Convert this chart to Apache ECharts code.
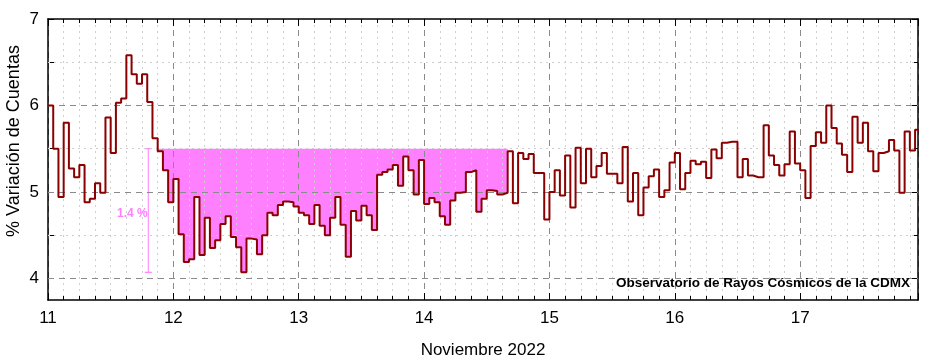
<!DOCTYPE html>
<html><head><meta charset="utf-8">
<script src="https://cdn.jsdelivr.net/npm/echarts@6/dist/echarts.min.js"></script>
<style>html,body{margin:0;padding:0;background:#fff}#c{width:931px;height:359px}</style>
</head><body><div id="c"></div>
<script>
// ---- data (hourly % variation, November 2022) ----
const START_DAY = 11;
const HOURS_PER_DAY = 24;
const X_MIN = 11, X_MAX = 17.94;
const Y_MIN = 3.75, Y_MAX = 7;
const xTickValues = [11, 12, 13, 14, 15, 16, 17];
const yLabelValues = [4, 5, 6, 7];
const yTickValues = [4, 4.5, 5, 5.5, 6, 6.5, 7];
const yGridMajor = [4, 5, 6];
const yGridMinor = [4.5, 5.5, 6.5];

const day11 = [6.00,5.50,4.94,5.80,5.27,5.17,5.31,4.88,4.92,5.10,4.99,5.86,5.45,6.03,6.08,6.58,6.36,6.25,6.36,6.04,5.62,5.47,5.25,4.88];
const day12 = [5.15,4.51,4.19,4.22,4.94,4.27,4.70,4.35,4.44,4.63,4.72,4.48,4.36,4.07,4.46,4.45,4.28,4.50,4.76,4.73,4.85,4.89,4.88,4.83];
const day13 = [4.76,4.73,4.63,4.85,4.61,4.50,4.70,4.94,4.62,4.25,4.78,4.67,4.84,4.73,4.56,5.20,5.23,5.26,5.31,5.07,5.41,5.25,4.97,5.37];
const day14 = [4.86,4.93,4.88,4.72,4.62,4.90,4.99,5.00,5.23,5.25,4.77,4.92,5.02,5.01,4.97,4.99,5.47,4.87,5.45,5.38,5.44,5.22,5.22,4.68];
const day15 = [5.00,5.25,4.96,5.42,4.82,5.51,5.10,5.50,5.17,5.30,5.45,5.21,5.21,5.10,5.52,4.89,5.22,4.73,5.05,5.18,5.26,4.94,5.02,5.34];
const day16 = [5.45,5.03,5.22,5.36,5.32,5.35,5.16,5.49,5.39,5.57,5.58,5.58,5.17,5.38,5.19,5.17,5.17,5.77,5.42,5.31,5.19,5.32,5.70,5.33];
const day17 = [5.25,4.93,5.53,5.69,5.57,6.00,5.74,5.56,5.43,5.23,5.87,5.57,5.80,5.47,5.24,5.45,5.47,5.60,5.48,4.99,5.70,5.48,5.72,5.48];

// decrease highlight
const refLevel = 5.5;
const fillStart = 11 + 21 / 24;
const fillEnd = 14 + 16 / 24;
const dropX = 11.8, dropTop = 5.5, dropBottom = 4.07;
const dropText = '1.4 %';

const titleY = '% Variación de Cuentas';
const titleX = 'Noviembre 2022';
const credit = 'Observatorio de Rayos Cósmicos de la CDMX';

// ---- build series data ----
const values = [].concat(day11, day12, day13, day14, day15, day16, day17);
const stepData = values.map((v, i) => [START_DAY + i / HOURS_PER_DAY, v]);
stepData.push([START_DAY + values.length / HOURS_PER_DAY, values[values.length - 1]]);

const eps = 1e-9;
const fillData = stepData.filter(p => p[0] >= fillStart - eps && p[0] < fillEnd - eps).map(p => [p[0], p[1]]);
fillData.push([fillEnd, fillData[fillData.length - 1][1]]);

const gridMarks = [];
yGridMajor.forEach(v => gridMarks.push({ yAxis: v, lineStyle: { type: [6, 5], color: '#8a8a8a', width: 1 } }));
yGridMinor.forEach(v => gridMarks.push({ yAxis: v, lineStyle: { type: [2, 4], color: '#cfcfcf', width: 1 } }));

const FONT = 'Liberation Sans, Arial, sans-serif';
const chart = echarts.init(document.getElementById('c'), null, { renderer: 'canvas' });
chart.setOption({
  animation: false,
  backgroundColor: '#fff',
  grid: { left: 48, right: 13, top: 19, bottom: 59, containLabel: false, outerBoundsMode: 'none' },
  xAxis: [{
    type: 'value', min: X_MIN, max: X_MAX, interval: 1, z: 3,
    axisLine: { show: true, onZero: false, lineStyle: { color: '#000', width: 1.5 } },
    axisTick: { show: true, inside: true, length: 7, lineStyle: { color: '#000' } },
    minorTick: { show: true, splitNumber: 8, length: 4, lineStyle: { color: '#000' } },
    axisLabel: { show: true, color: '#000', fontSize: 17, fontFamily: FONT, margin: 10,
      formatter: v => xTickValues.indexOf(Math.round(v)) >= 0 && Math.abs(v - Math.round(v)) < 1e-6 ? String(Math.round(v)) : '' },
    splitLine: { show: true, lineStyle: { type: [6, 5], color: '#8a8a8a', width: 1 } },
    minorSplitLine: { show: true, lineStyle: { type: [2, 4], color: '#cfcfcf', width: 1 } },
    name: titleX, nameLocation: 'middle', nameGap: 42,
    nameTextStyle: { fontSize: 17, fontFamily: FONT, color: '#000' }
  }, {
    type: 'value', position: 'top', min: X_MIN, max: X_MAX, interval: 1, z: 3,
    axisLine: { show: true, onZero: false, lineStyle: { color: '#000', width: 1.5 } },
    axisTick: { show: true, inside: true, length: 7, lineStyle: { color: '#000' } },
    minorTick: { show: true, splitNumber: 8, length: 4, lineStyle: { color: '#000' } },
    axisLabel: { show: false }, splitLine: { show: false }
  }],
  yAxis: [{
    type: 'value', min: Y_MIN, max: Y_MAX, z: 3,
    axisLine: { show: true, onZero: false, lineStyle: { color: '#000', width: 1.5 } },
    axisTick: { show: true, inside: true, length: 6, customValues: yTickValues, lineStyle: { color: '#000' } },
    axisLabel: { show: true, customValues: yLabelValues, color: '#000', fontSize: 17, fontFamily: FONT, margin: 9 },
    splitLine: { show: false }
  }, {
    type: 'value', position: 'right', min: Y_MIN, max: Y_MAX, z: 3,
    axisLine: { show: true, onZero: false, lineStyle: { color: '#000', width: 1.5 } },
    axisTick: { show: true, inside: true, length: 6, customValues: yTickValues, lineStyle: { color: '#000' } },
    axisLabel: { show: false }, splitLine: { show: false }
  }],
  series: [
    {
      name: 'fill', type: 'line', step: 'end', data: fillData, z: 1,
      symbol: 'none', lineStyle: { width: 0, opacity: 0 },
      areaStyle: { color: '#ff80ff', opacity: 1, origin: refLevel },
      silent: true
    },
    {
      name: 'grid', type: 'line', data: [], z: 3, silent: true,
      markLine: { silent: true, symbol: 'none', label: { show: false }, animation: false, data: gridMarks }
    },
    {
      name: 'drop', type: 'line', data: [[dropX, dropTop], [dropX, dropBottom]], z: 4,
      symbol: 'rect', symbolSize: [7, 1.2], showSymbol: true,
      lineStyle: { color: '#ff80ff', width: 1 }, itemStyle: { color: '#ff80ff' }, silent: true
    },
    {
      name: 'cuentas', type: 'line', step: 'end', data: stepData, z: 5,
      symbol: 'none', lineStyle: { color: '#8b0000', width: 2 }, silent: true
    }
  ],
  graphic: [
    { type: 'text', x: 14, y: 141, rotation: Math.PI / 2, z: 10,
      style: { text: titleY, fill: '#000', font: '18px ' + FONT, align: 'center', verticalAlign: 'middle' } },
    { type: 'text', left: 117, top: 208, z: 10, style: { text: dropText, fill: '#ff80ff', font: 'bold 12px ' + FONT } },
    { type: 'text', right: 21, top: 276, z: 10, style: { text: credit, fill: '#000', font: 'bold 13.5px ' + FONT } }
  ]
});
</script>
</body></html>
